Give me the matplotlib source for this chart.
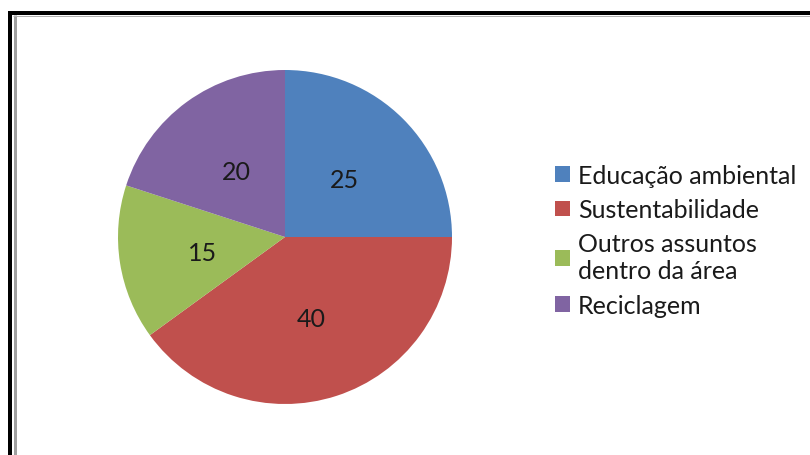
import matplotlib.pyplot as plt
from matplotlib.lines import Line2D

plt.rcParams['font.family'] = ['Lato', 'DejaVu Sans']

categories = ['Educação ambiental', 'Sustentabilidade',
              'Outros assuntos\ndentro da área', 'Reciclagem']
values = [25, 40, 15, 20]
colors = ['#4F81BD', '#C0504D', '#9BBB59', '#8064A2']

W, H = 810, 456


def px_line(fig, xs, ys, color, width_px):
    # coordinates in pixels, y measured from the top
    fx = [x / W for x in xs]
    fy = [1 - y / H for y in ys]
    fig.add_artist(Line2D(fx, fy, color=color, linewidth=width_px * 72 / 100,
                          transform=fig.transFigure, solid_capstyle='butt'))


def main():
    fig = plt.figure(figsize=(W / 100, H / 100), dpi=100)

    # pie centred at (285, 238) px, radius 167 px
    cx, cy, r = 285, 238, 167
    ax = fig.add_axes([(cx - r) / W, (H - cy - r) / H, 2 * r / W, 2 * r / H])
    wedges, texts = ax.pie(values, colors=colors, startangle=90, counterclock=False,
                           labels=[str(v) for v in values], labeldistance=0.5,
                           textprops=dict(fontsize=18, color='#1a1a1a',
                                          ha='center', va='center_baseline'))
    ax.set_xlim(-1, 1)
    ax.set_ylim(-1, 1)
    ax.set_aspect('equal')

    fs = 18
    leg = fig.legend(wedges, categories, loc='upper left',
                     bbox_to_anchor=(555 / W, 1 - 165 / H), frameon=False,
                     fontsize=fs, handlelength=0.6, handleheight=0.6,
                     handletextpad=0.33, labelspacing=0.45, borderpad=0,
                     borderaxespad=0, labelcolor='#1a1a1a')
    for t in leg.get_texts():
        t.set_linespacing(1.2)

    # outer frame with a grey inner shadow
    px_line(fig, [9.5, 9.5], [12, H], 'black', 4)
    px_line(fig, [7.5, W], [14, 14], 'black', 4)
    px_line(fig, [14.5, 14.5], [16, H], '#a0a0a0', 3)
    px_line(fig, [13, W], [16.5, 16.5], '#b0b0b0', 1)

    fig.savefig('out.png', dpi=100)


if __name__ == '__main__':
    main()
